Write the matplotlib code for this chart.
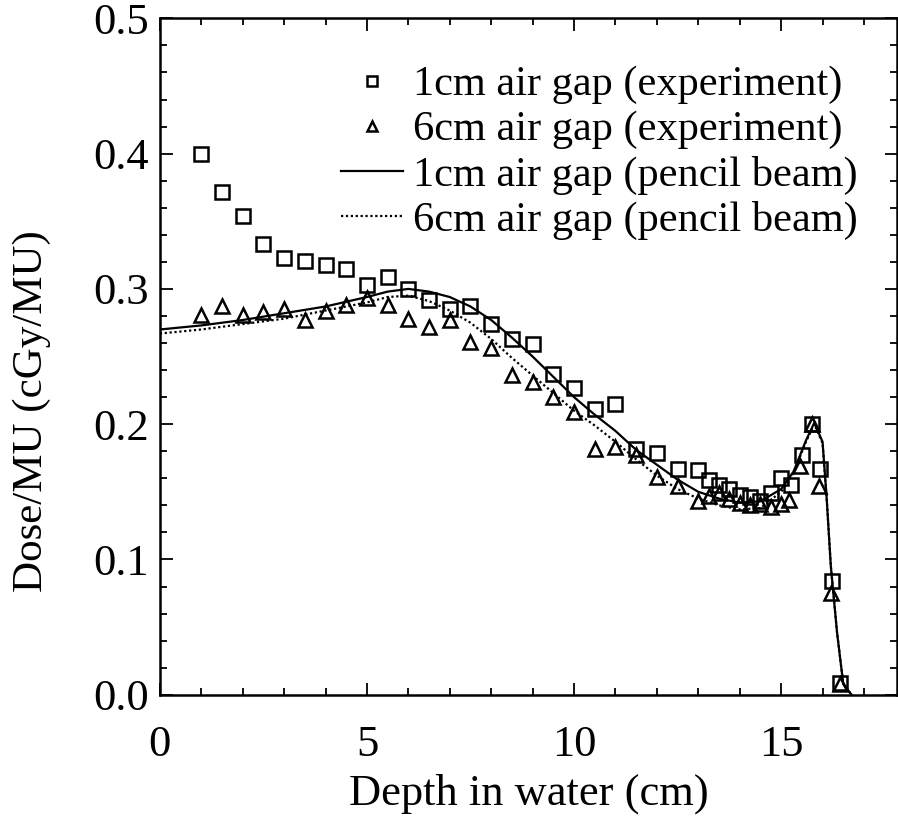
import matplotlib
matplotlib.use("Agg")
import matplotlib.pyplot as plt
from matplotlib.ticker import MultipleLocator

plt.rcParams['font.family'] = ['Liberation Serif', 'DejaVu Serif']

# Measured depth-dose, 1 cm air gap
sq_depth = [1.0, 1.5, 2.0, 2.5, 3.0, 3.5, 4.0, 4.5, 5.0, 5.5, 6.0, 6.5, 7.0, 7.5,
            8.0, 8.5, 9.0, 9.5, 10.0, 10.5, 11.0, 11.5, 12.0, 12.5, 13.0, 13.25,
            13.5, 13.75, 14.0, 14.25, 14.5, 14.75, 15.0, 15.25, 15.5, 15.75,
            15.95, 16.22, 16.43]
sq_dose = [0.400, 0.372, 0.354, 0.333, 0.323, 0.321, 0.318, 0.315, 0.303, 0.309,
           0.300, 0.292, 0.285, 0.287, 0.274, 0.263, 0.259, 0.237, 0.227, 0.211,
           0.215, 0.182, 0.179, 0.167, 0.166, 0.159, 0.155, 0.152, 0.148, 0.146,
           0.143, 0.149, 0.160, 0.155, 0.177, 0.200, 0.167, 0.084, 0.009]

# Measured depth-dose, 6 cm air gap
tri_depth = [1.0, 1.5, 2.0, 2.5, 3.0, 3.5, 4.0, 4.5, 5.0, 5.5, 6.0, 6.5, 7.0, 7.5,
             8.0, 8.5, 9.0, 9.5, 10.0, 10.5, 11.0, 11.5, 12.0, 12.5, 13.0, 13.25,
             13.5, 13.75, 14.0, 14.25, 14.5, 14.75, 15.0, 15.2, 15.45, 15.75,
             15.92, 16.2, 16.43]
tri_dose = [0.281, 0.287, 0.281, 0.283, 0.285, 0.277, 0.284, 0.288, 0.293, 0.288,
            0.278, 0.272, 0.277, 0.261, 0.256, 0.236, 0.231, 0.220, 0.209, 0.182,
            0.183, 0.177, 0.161, 0.154, 0.143, 0.147, 0.149, 0.145, 0.142, 0.140,
            0.141, 0.139, 0.141, 0.144, 0.169, 0.200, 0.154, 0.075, 0.008]

# Pencil beam calculation, 1 cm air gap
pb1_depth = [0.0, 1.0, 2.0, 3.0, 4.0, 5.0, 5.5, 6.0, 6.5, 7.0, 7.5, 8.0, 8.5, 9.0,
             9.5, 10.0, 10.5, 11.0, 11.5, 12.0, 12.5, 13.0, 13.5, 14.0, 14.5,
             15.0, 15.3, 15.6, 15.8, 16.0, 16.1, 16.2, 16.35, 16.5, 16.7]
pb1_dose = [0.270, 0.273, 0.277, 0.282, 0.287, 0.294, 0.298, 0.300, 0.298, 0.294,
            0.287, 0.277, 0.264, 0.250, 0.235, 0.220, 0.207, 0.195, 0.181, 0.170,
            0.159, 0.150, 0.145, 0.142, 0.143, 0.152, 0.165, 0.188, 0.201, 0.187,
            0.145, 0.095, 0.046, 0.008, 0.0]

# Pencil beam calculation, 6 cm air gap
pb6_depth = pb1_depth
pb6_dose = [0.267, 0.270, 0.274, 0.278, 0.284, 0.290, 0.294, 0.295, 0.291, 0.284,
            0.275, 0.263, 0.249, 0.236, 0.223, 0.210, 0.199, 0.187, 0.174, 0.162,
            0.152, 0.145, 0.140, 0.137, 0.138, 0.150, 0.164, 0.187, 0.200, 0.186,
            0.145, 0.095, 0.046, 0.008, 0.0]

x_ticks = [0, 5, 10, 15]
y_ticks = [0.0, 0.1, 0.2, 0.3, 0.4, 0.5]

fig = plt.figure(figsize=(8.98, 8.35), dpi=100)
ax = fig.add_axes([0.178, 0.168, 0.821, 0.810])

ax.plot(sq_depth, sq_dose, linestyle='none', marker='s', ms=10.5, mfc='none',
        mec='black', mew=1.8, label='1cm air gap (experiment)')
ax.plot(tri_depth, tri_dose, linestyle='none', marker='^', ms=9.5, mfc='none',
        mec='black', mew=1.8, label='6cm air gap (experiment)')
ax.plot(pb1_depth, pb1_dose, color='black', lw=1.6, linestyle='-',
        label='1cm air gap (pencil beam)')
ax.plot(pb6_depth, pb6_dose, color='black', lw=1.6, linestyle=(0, (1, 1.2)),
        label='6cm air gap (pencil beam)')

ax.set_xlim(0, 17.8)
ax.set_ylim(0, 0.5)
ax.set_xticks(x_ticks)
ax.set_xticklabels([str(v) for v in x_ticks])
ax.set_yticks(y_ticks)
ax.set_yticklabels([f"{v:.1f}" for v in y_ticks])
ax.xaxis.set_minor_locator(MultipleLocator(1))
ax.yaxis.set_minor_locator(MultipleLocator(0.02))
ax.tick_params(which='both', direction='in', top=True, right=True,
               labelsize=32, width=1.3)
ax.tick_params(axis='x', which='major', length=9, pad=22)
ax.tick_params(axis='y', which='major', length=9, pad=8)
ax.tick_params(which='minor', length=5)
for s in ax.spines.values():
    s.set_linewidth(1.8)

ax.set_xlabel('Depth in water (cm)', fontsize=32, labelpad=6)
ax.set_ylabel('Dose/MU (cGy/MU)', fontsize=31)
ax.yaxis.set_label_coords(-0.147, 0.42)

leg = ax.legend(loc='upper right', bbox_to_anchor=(0.947, 0.93), frameon=False,
                fontsize=30.5, handlelength=1.45, handletextpad=0.25,
                labelspacing=0.15, borderaxespad=0, borderpad=0,
                markerscale=0.75)

fig.savefig('out.png', dpi=100)
